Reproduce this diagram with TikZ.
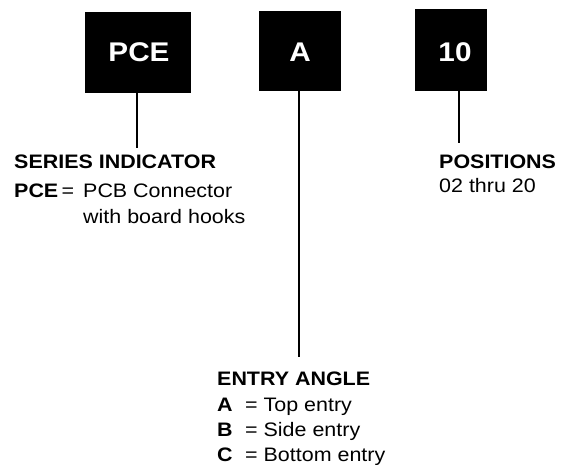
\documentclass[tikz,border=0pt]{standalone}
\usepackage{fontspec}
\setmainfont[FakeStretch=1.1]{Liberation Sans}
\usepackage{tikz}
\tikzstyle{codebox} = [rectangle, fill=black, text=white, font=\fontsize{27}{30}\selectfont\bfseries, inner sep=0pt]
\tikzstyle{legend} = [anchor=base west, inner sep=0pt, font=\fontsize{19.5}{23}\selectfont]
\tikzstyle{lead} = [line width=1.6pt]

\begin{document}
\begin{tikzpicture}[x=1pt, y=-1pt]
    \useasboundingbox (0,0) rectangle (567,465);

    \node [codebox, minimum width=106pt, minimum height=81pt] (pce) at (138,52.5) {};
    \node [codebox, minimum width=82pt, minimum height=80pt] (ang) at (300,51) {};
    \node [codebox, minimum width=72pt, minimum height=82pt] (pos) at (451,50) {};
    \node [codebox, anchor=base] (pcetxt) at (139,62) {PCE};
    \node [codebox, anchor=base] (angtxt) at (300,62) {A};
    \node [codebox, anchor=base] (postxt) at (455,62) {10};

    % series indicator
    \node [legend, font=\fontsize{19.5}{23}\selectfont\bfseries] (series) at (14,169) {SERIES INDICATOR};
    \node [legend] (serieseq) at (14,197) {\textbf{PCE}\,=};
    \node [legend] (seriesa) at (83,197) {PCB Connector};
    \node [legend] (seriesb) at (83,223) {with board hooks};

    % positions
    \node [legend, font=\fontsize{19.5}{23}\selectfont\bfseries] (positions) at (439,168) {POSITIONS};
    \node [legend] (posrange) at (439,193) {02 thru 20};

    % entry angle
    \node [legend, font=\fontsize{19.5}{23}\selectfont\bfseries] (entry) at (217,385) {ENTRY ANGLE};
    \foreach \l/\t/\y in {A/Top/411, B/Side/436, C/Bottom/461}
    {
        \node [legend] (key\l) at (217,\y) {\textbf{\l}};
        \node [legend] (val\l) at (245,\y) {= \t\ entry};
    }

    \coordinate (pceend) at (137,148);
    \coordinate (angend) at (299,357);
    \coordinate (posend) at (459,143);
    \draw [lead] (pce.south -| pceend) -- (pceend);
    \draw [lead] (ang.south -| angend) -- (angend);
    \draw [lead] (pos.south -| posend) -- (posend);
\end{tikzpicture}
\end{document}
